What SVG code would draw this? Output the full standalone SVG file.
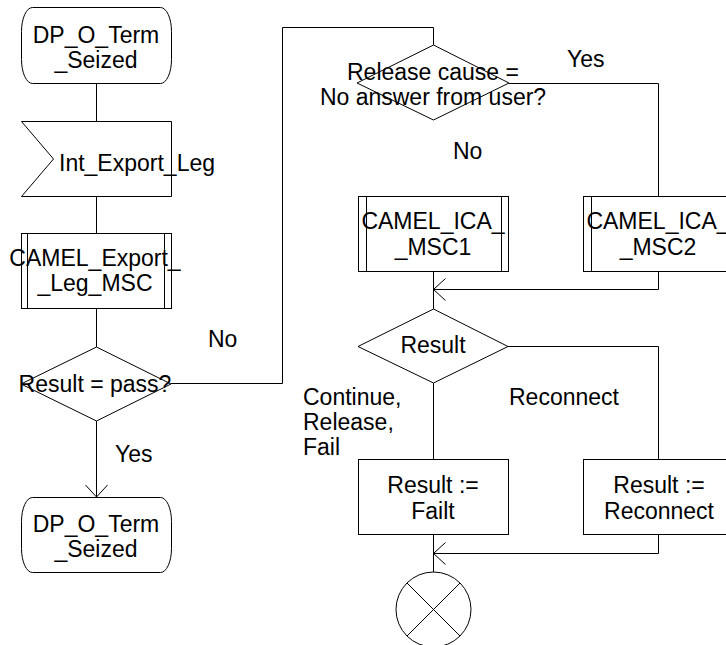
<svg xmlns="http://www.w3.org/2000/svg" width="726" height="645" viewBox="0 0 726 645">
<defs>
<style>
.s{fill:#fff;stroke:#000;stroke-width:1}
.l{fill:none;stroke:#000;stroke-width:1}
text{font-family:"Liberation Sans",Arial,sans-serif;font-size:23px;fill:#000}
.m{text-anchor:middle}
</style>
<marker id="arr" viewBox="-13 -12 14 24" markerWidth="14" markerHeight="24" refX="0" refY="0" orient="auto" markerUnits="userSpaceOnUse">
<path d="M-12,-11 L0,0 L-12,11" fill="none" stroke="#000" stroke-width="1"/>
</marker>
</defs>
<rect width="726" height="645" fill="#fff"/>
<g id="connectors">
<line class="l" x1="96.5" y1="83" x2="96.5" y2="121"/>
<line class="l" x1="96.5" y1="196" x2="96.5" y2="233"/>
<line class="l" x1="96.5" y1="308" x2="96.5" y2="347"/>
<line class="l" x1="96.5" y1="421" x2="96.5" y2="497" marker-end="url(#arr)"/>
<polyline class="l" points="171,383.5 282.5,383.5 282.5,27.5 433.5,27.5 433.5,45"/>
<polyline class="l" points="509,83.5 658.5,83.5 658.5,196"/>
<line class="l" x1="433.5" y1="271" x2="433.5" y2="309"/>
<polyline class="l" points="658.5,271 658.5,289.5 433.5,289.5" marker-end="url(#arr)"/>
<polyline class="l" points="508,346.5 658.5,346.5 658.5,459"/>
<line class="l" x1="433.5" y1="383" x2="433.5" y2="459"/>
<line class="l" x1="433.5" y1="534" x2="433.5" y2="572"/>
<polyline class="l" points="658.5,534 658.5,553.5 433.5,553.5" marker-end="url(#arr)"/>
<text x="208" y="347">No</text>
<text x="115" y="462">Yes</text>
<text x="567" y="67">Yes</text>
<text x="453" y="159">No</text>
<text x="303" y="405">Continue,</text>
<text x="303" y="430">Release,</text>
<text x="303" y="455">Fail</text>
<text x="509" y="405">Reconnect</text>
</g>
<g id="start">
<rect class="s" x="21.5" y="7.5" width="150" height="76" rx="11" ry="24"/>
<text class="m" x="96" y="43">DP_O_Term</text>
<text class="m" x="96" y="68">_Seized</text>
</g>
<g id="input">
<polygon class="s" points="21.5,121.5 171.5,121.5 171.5,196.5 21.5,196.5 53.5,159"/>
<text x="59" y="171">Int_Export_Leg</text>
</g>
<g id="proc_export">
<rect class="s" x="21.5" y="233.5" width="150" height="75"/>
<line class="l" x1="27.5" y1="233.5" x2="27.5" y2="308.5"/>
<line class="l" x1="164.5" y1="233.5" x2="164.5" y2="308.5"/>
<text class="m" x="95" y="266">CAMEL_Export_</text>
<text class="m" x="95" y="291">_Leg_MSC</text>
</g>
<g id="dec_pass">
<polygon class="s" points="96.5,347 171,384 96.5,421 21,384"/>
<text class="m" x="95" y="392">Result = pass?</text>
</g>
<g id="end_term">
<rect class="s" x="21.5" y="497.5" width="150" height="75" rx="11" ry="24"/>
<text class="m" x="96" y="532">DP_O_Term</text>
<text class="m" x="96" y="557">_Seized</text>
</g>
<g id="dec_release">
<polygon class="s" points="433.5,45 509,83 433.5,120 357,83"/>
<text class="m" x="433" y="80">Release cause =</text>
<text class="m" x="433" y="105">No answer from user?</text>
</g>
<g id="proc_ica1">
<rect class="s" x="358.5" y="196.5" width="150" height="75"/>
<line class="l" x1="366.5" y1="196.5" x2="366.5" y2="271.5"/>
<line class="l" x1="501.5" y1="196.5" x2="501.5" y2="271.5"/>
<text class="m" x="433" y="229">CAMEL_ICA_</text>
<text class="m" x="433" y="255">_MSC1</text>
</g>
<g id="proc_ica2">
<rect class="s" x="583.5" y="196.5" width="150" height="75"/>
<line class="l" x1="591.5" y1="196.5" x2="591.5" y2="271.5"/>
<line class="l" x1="726.5" y1="196.5" x2="726.5" y2="271.5"/>
<text class="m" x="658" y="229">CAMEL_ICA_</text>
<text class="m" x="658" y="255">_MSC2</text>
</g>
<g id="dec_result">
<polygon class="s" points="433.5,309 508,346.5 433.5,383 358,346.5"/>
<text class="m" x="433" y="353">Result</text>
</g>
<g id="task_fail">
<rect class="s" x="358.5" y="459.5" width="150" height="75"/>
<text class="m" x="433" y="493">Result :=</text>
<text class="m" x="433" y="519">Failt</text>
</g>
<g id="task_reconnect">
<rect class="s" x="583.5" y="459.5" width="150" height="75"/>
<text class="m" x="659" y="493">Result :=</text>
<text class="m" x="659" y="519">Reconnect</text>
</g>
<g id="stop">
<circle class="s" cx="433.5" cy="609.5" r="37.5"/>
<line class="l" x1="407" y1="583" x2="460" y2="636"/>
<line class="l" x1="460" y1="583" x2="407" y2="636"/>
</g>
</svg>
